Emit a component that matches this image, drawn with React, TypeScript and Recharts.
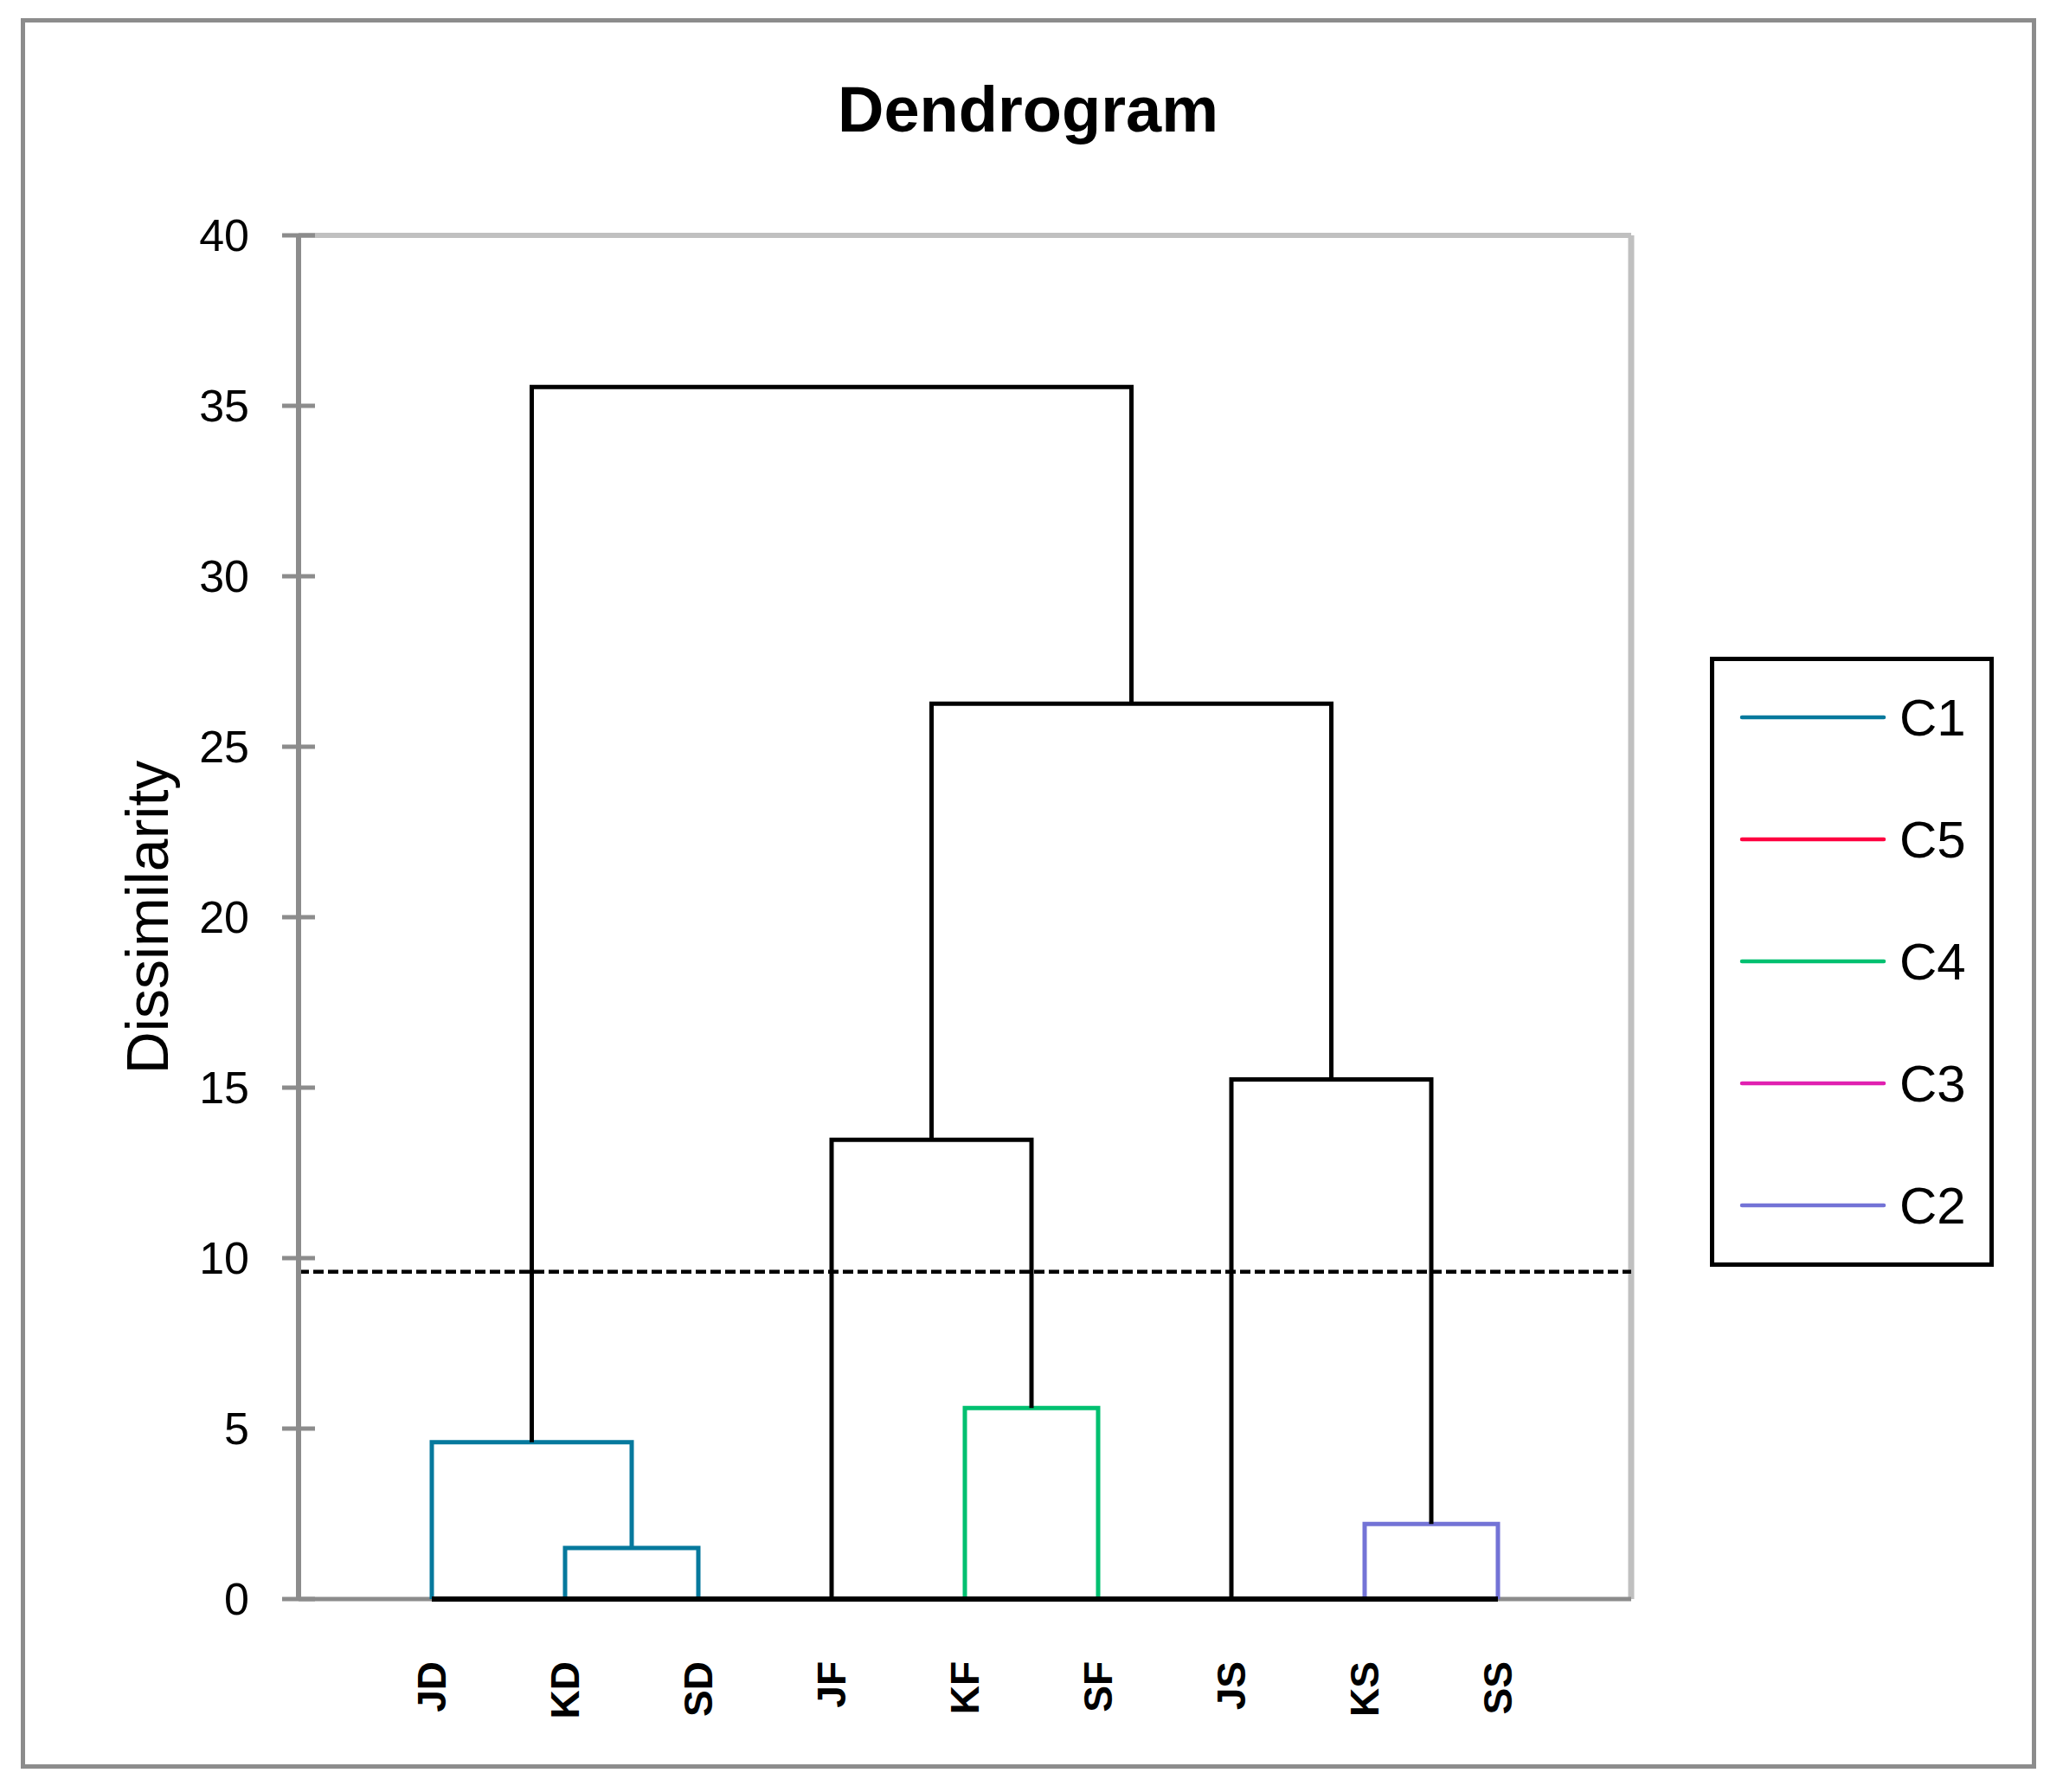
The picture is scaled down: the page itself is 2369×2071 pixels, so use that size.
import React from "react";
import { LineChart, Line, XAxis, YAxis, ReferenceLine } from "recharts";

// Leaves, left to right
const leafNames = ["JD", "KD", "SD", "JF", "KF", "SF", "JS", "KS", "SS"];

// Linkage: node ids 0..8 are leaves, each merge creates node 9, 10, ...
const mergeLeft = [1, 0, 4, 3, 7, 6, 12, 10];
const mergeRight = [2, 9, 5, 11, 8, 13, 14, 15];
const mergeHeight = [1.5, 4.6, 5.6, 13.47, 2.2, 15.24, 26.26, 35.55];
const mergeColor = ["#06799d", "#06799d", "#00c070", "#000000", "#7373d6", "#000000", "#000000", "#000000"];

const cutHeight = 9.6;
const yTicks = [0, 5, 10, 15, 20, 25, 30, 35, 40];

// Legend entries (as in the reference, in this order)
const legendNames = ["C1", "C5", "C4", "C3", "C2"];
const legendColors = ["#06799d", "#ff0040", "#00c070", "#e020b0", "#7373d6"];

const FONT = "'Liberation Sans', Arial, sans-serif";

// position / height of every node
const nodeX: number[] = leafNames.map((_n, i) => i + 1);
const nodeY: number[] = leafNames.map(() => 0);
const links = mergeLeft.map((l, i) => {
  const r = mergeRight[i];
  const h = mergeHeight[i];
  const pts = [
    { x: nodeX[l], y: nodeY[l] },
    { x: nodeX[l], y: h },
    { x: nodeX[r], y: h },
    { x: nodeX[r], y: nodeY[r] },
  ];
  nodeX.push((nodeX[l] + nodeX[r]) / 2);
  nodeY.push(h);
  return { pts, color: mergeColor[i] };
});

// leaves sit on a black base line from the first to the last leaf
const baseline = [
  { x: 1, y: 0 },
  { x: leafNames.length, y: 0 },
];

const YTick = (props: any) => {
  const { x, y, payload } = props;
  return (
    <g>
      <line x1={x - 19} x2={x + 19} y1={y} y2={y} stroke="#8c8c8c" strokeWidth={5} />
      <text x={x - 57} y={y} textAnchor="end" dominantBaseline="central" fontSize={52} fontFamily={FONT} fill="#000">
        {payload.value}
      </text>
    </g>
  );
};

const XTick = (props: any) => {
  const { x, y, payload } = props;
  const ty = y + 72;
  return (
    <text
      x={x}
      y={ty}
      transform={`rotate(-90, ${x}, ${ty})`}
      textAnchor="end"
      dominantBaseline="central"
      fontSize={46}
      fontWeight="bold"
      fontFamily={FONT}
      fill="#000"
    >
      {leafNames[payload.value - 1]}
    </text>
  );
};

const ClusterLegend = () => (
  <div
    style={{
      position: "absolute",
      left: 1976,
      top: 759,
      width: 328,
      height: 705,
      border: "5px solid #000",
      boxSizing: "border-box",
      background: "#fff",
    }}
  >
    <svg width={318} height={695} style={{ display: "block" }}>
      {legendNames.map((name, i) => {
        const cy = 65 + i * 141;
        return (
          <g key={name}>
            <line x1={32} x2={196} y1={cy} y2={cy} stroke={legendColors[i]} strokeWidth={4.5} strokeLinecap="round" />
            <text x={214} y={cy} dominantBaseline="central" fontSize={60} fontFamily={FONT} fill="#000">
              {name}
            </text>
          </g>
        );
      })}
    </svg>
  </div>
);

export default function App() {
  return (
    <div style={{ position: "absolute", left: 0, top: 0, width: 2369, height: 2071, background: "#fff" }}>
      <div
        style={{
          position: "absolute",
          left: 24,
          top: 21,
          width: 2329,
          height: 2023,
          border: "5px solid #8c8c8c",
          boxSizing: "border-box",
        }}
      />
      <div
        style={{
          position: "absolute",
          left: 588,
          width: 1200,
          top: 90,
          textAlign: "center",
          fontFamily: FONT,
          fontWeight: "bold",
          fontSize: 74,
          lineHeight: "74px",
        }}
      >
        Dendrogram
      </div>
      <div style={{ position: "absolute", left: 0, top: 0 }}>
        <LineChart width={2369} height={2071} margin={{ top: 272, right: 484, bottom: 0, left: 0 }}>
          <XAxis
            type="number"
            dataKey="x"
            domain={[0, 10]}
            ticks={[1, 2, 3, 4, 5, 6, 7, 8, 9]}
            allowDataOverflow
            height={223}
            tickLine={false}
            tickSize={0}
            tickMargin={0}
            axisLine={false}
            tick={<XTick />}
            interval={0}
          />
          <YAxis
            type="number"
            domain={[0, 40]}
            ticks={yTicks}
            width={345}
            tickLine={false}
            tickSize={0}
            tickMargin={0}
            axisLine={{ stroke: "#8c8c8c", strokeWidth: 6 }}
            tick={<YTick />}
            interval={0}
            label={{
              value: "Dissimilarity",
              angle: -90,
              position: "center",
              dx: -3,
              fontSize: 68,
              fontFamily: FONT,
              fill: "#000",
            }}
          />
          <ReferenceLine y={40} stroke="#c0c0c0" strokeWidth={6} />
          <ReferenceLine x={10} stroke="#c0c0c0" strokeWidth={7} />
          <ReferenceLine y={0} stroke="#8c8c8c" strokeWidth={5} />
          <ReferenceLine y={cutHeight} stroke="#000" strokeWidth={4.5} strokeDasharray="12 5" />
          {links.map((lk, i) => (
            <Line
              key={`link-${i}`}
              data={lk.pts}
              dataKey="y"
              type="linear"
              stroke={lk.color}
              strokeWidth={5}
              dot={false}
              activeDot={false}
              isAnimationActive={false}
              legendType="none"
            />
          ))}
          <ReferenceLine segment={baseline} stroke="#000" strokeWidth={6} ifOverflow="visible" />
        </LineChart>
      </div>
      <ClusterLegend />
    </div>
  );
}
